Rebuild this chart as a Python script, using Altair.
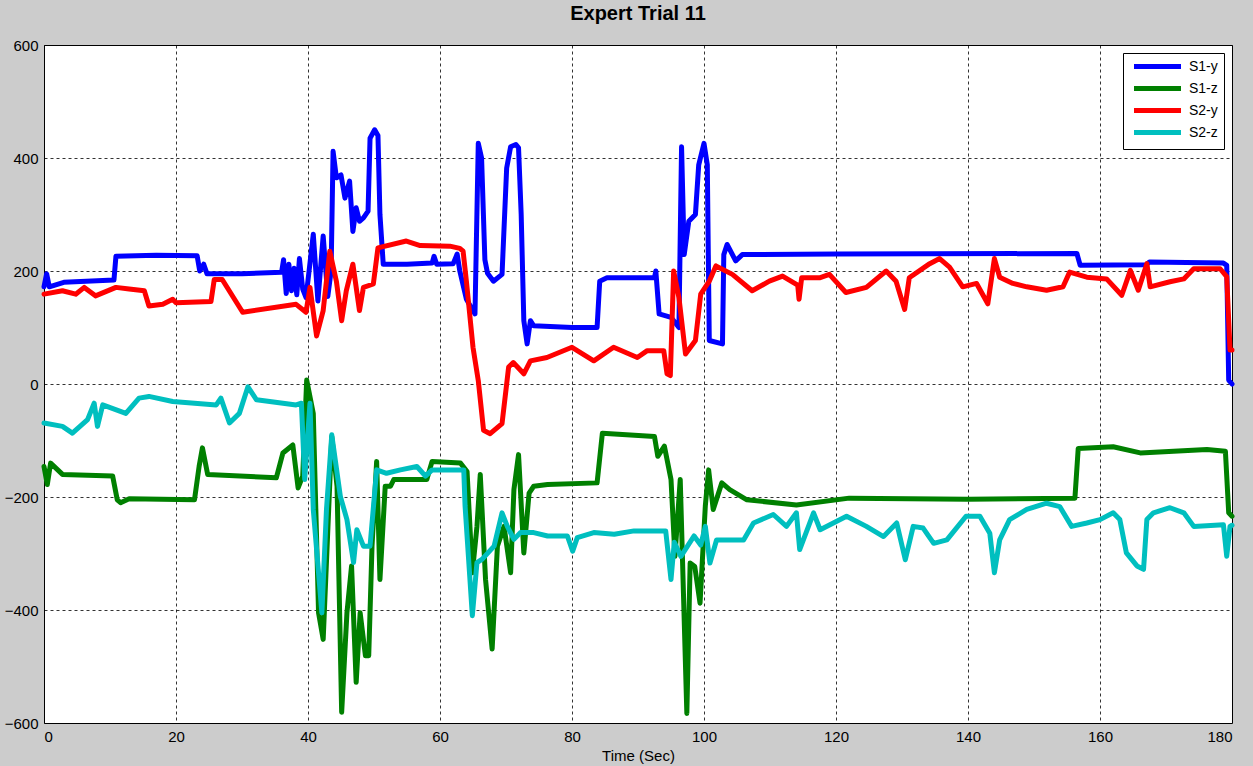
import altair as alt
import pandas as pd

series_names = ["S1-y", "S1-z", "S2-y", "S2-z"]
series_colors = ["#0000ff", "#008000", "#ff0000", "#00bfbf"]

x_ticks = [0, 20, 40, 60, 80, 100, 120, 140, 160, 180]
y_ticks = [-600, -400, -200, 0, 200, 400, 600]

s1_y = [(0,172),(0.4,195),(0.8,172),(3,180),(10.6,184),(10.9,226),(17,228),(23.2,227),(23.6,200),(24.2,212),(24.7,195),(30,195),(36,198),(36.3,220),(36.7,160),(37.1,212),(37.5,165),(37.9,205),(38.3,158),(38.7,222),(39.2,168),(39.7,153),(40.8,265),(41.5,147),(42.3,262),(43,155),(43.5,200),(43.8,412),(44.3,365),(45,370),(45.6,329),(46.3,359),(46.8,270),(47.3,312),(47.8,288),(48.4,294),(49.1,306),(49.4,435),(50.1,450),(50.6,440),(50.9,300),(51.4,212),(55,212),(58.8,214),(59.1,226),(59.5,212),(62,213),(62.6,230),(63,200),(64,150),(65.3,124),(65.8,426),(66.3,400),(66.8,220),(67.2,196),(68.1,182),(69.4,194),(70.1,382),(70.7,420),(71.5,424),(71.9,418),(72.3,300),(72.7,112),(73.2,71),(73.7,112),(74.2,103),(80,100),(83.8,100),(84.2,182),(85.3,188),(92.5,188),(92.7,200),(93.2,124),(95,118),(96.2,100),(96.6,420),(97,229),(97.7,288),(98.7,300),(99.2,388),(100,426),(100.5,388),(100.8,77),(102.8,71),(103,229),(103.5,247),(104.8,218),(105.8,229),(120,230),(156.5,231),(157,210),(167,211),(167.5,216),(178.7,214),(179.2,210),(179.5,7),(180,0)]

s1_z = [(0,-146),(0.5,-178),(1,-140),(2.8,-160),(10.4,-163),(11.1,-205),(11.6,-210),(12.9,-203),(22.8,-205),(23.5,-146),(24,-113),(24.8,-160),(35.2,-166),(36.2,-122),(37.7,-108),(38.5,-184),(39.2,-163),(39.8,7),(40.8,-52),(41.6,-405),(42.3,-452),(43.6,-93),(44.4,-181),(45.1,-581),(45.9,-405),(46.6,-322),(47.3,-528),(47.9,-405),(48.7,-481),(49.2,-481),(49.7,-287),(50.4,-137),(50.9,-346),(51.7,-181),(52.5,-181),(53,-169),(58,-169),(58.8,-137),(63.1,-140),(64.1,-155),(64.9,-334),(65.6,-252),(66.1,-160),(66.9,-346),(67.9,-469),(68.7,-287),(69.7,-252),(70.7,-334),(71.2,-187),(71.9,-125),(72.7,-299),(73.5,-193),(74.2,-181),(76.3,-178),(83.8,-175),(84.6,-87),(92.5,-93),(93,-128),(94,-110),(95,-169),(95.6,-305),(96.4,-169),(97.4,-583),(97.9,-317),(98.6,-323),(99.4,-388),(100.2,-216),(100.7,-152),(101.4,-222),(102.7,-175),(103.9,-187),(106.5,-205),(114,-214),(122,-202),(140,-204),(156.2,-202),(156.7,-114),(162,-111),(166.1,-122),(176.2,-116),(179,-119),(179.5,-228),(180,-234)]

s2_y = [(0,159),(2.8,165),(4.8,159),(6.1,171),(7.8,156),(10.9,171),(12.9,168),(15.2,165),(15.9,138),(18,141),(19.5,150),(20,144),(25.3,146),(25.8,185),(27,185),(30.1,127),(38.2,141),(39.7,127),(40.3,171),(41.3,85),(42.3,130),(43.3,235),(44.3,182),(45.1,112),(45.8,165),(46.8,212),(47.8,130),(48.4,171),(49.9,177),(50.6,241),(54.9,253),(57,245),(61.5,244),(63,240),(63.5,235),(64,182),(65,65),(65.8,6),(66.6,-82),(67.6,-88),(69.4,-70),(70.4,30),(71.1,38),(72.7,18),(73.7,41),(76.2,47),(80,65),(83.3,41),(86.3,65),(89.9,47),(91.4,59),(93.9,59),(94.4,18),(94.9,15),(95.4,200),(96.2,153),(97.2,53),(98.7,77),(99.5,159),(100.8,182),(101.8,209),(104.3,194),(107.3,165),(109.9,182),(111.9,191),(114.2,175),(114.4,150),(114.8,188),(117.5,188),(119,194),(121.5,162),(124.6,171),(127.6,200),(129.1,182),(130.4,132),(131.1,188),(134.2,213),(135.7,222),(137.2,207),(139.2,172),(141.3,178),(143,142),(144,222),(144.8,189),(146.8,178),(148.9,172),(151.9,166),(154.4,172),(155.4,198),(158,189),(161,186),(163.3,157),(164.6,201),(165.8,166),(167.1,213),(167.6,172),(170.6,181),(172.7,186),(174.2,204),(178.2,204),(179.2,190),(179.7,60),(180,60)]

s2_z = [(0,-69),(2.8,-75),(4.3,-87),(6.6,-63),(7.6,-34),(8.1,-75),(8.9,-37),(12.4,-52),(14.4,-25),(15.9,-22),(19.5,-31),(26.1,-37),(26.8,-25),(28.1,-69),(29.6,-52),(30.9,-5),(32.2,-28),(38.2,-37),(39,-34),(39.5,-169),(40.3,-34),(40.8,-222),(42.1,-405),(42.8,-222),(43.6,-90),(44.9,-199),(45.9,-240),(46.9,-316),(47.4,-258),(48.4,-287),(49.4,-287),(50.4,-152),(51.9,-158),(54,-152),(56.5,-146),(57.8,-163),(58.8,-152),(63.6,-152),(63.8,-216),(64.9,-410),(65.6,-316),(66.4,-310),(68.2,-287),(69.4,-228),(70.2,-252),(71.2,-275),(72.2,-263),(74.2,-263),(76.3,-269),(79.3,-269),(80.1,-296),(80.8,-272),(83.3,-263),(86.4,-266),(89.4,-260),(94.2,-260),(95,-346),(95.5,-280),(96.5,-305),(98.5,-269),(99.5,-285),(100.2,-252),(100.9,-317),(101.9,-276),(106,-276),(107.5,-246),(110.5,-231),(112.5,-252),(114,-228),(114.5,-293),(116.6,-228),(117.6,-258),(121.6,-234),(124.6,-252),(127.2,-270),(129.2,-246),(130.5,-311),(131.7,-252),(133.2,-255),(134.8,-282),(136.8,-276),(139.7,-234),(141.8,-234),(143.3,-264),(144,-334),(144.8,-276),(146.3,-240),(148.9,-222),(151.9,-211),(153.9,-217),(155.7,-252),(158,-246),(160,-240),(162,-228),(163,-240),(164,-299),(165.6,-322),(166.6,-328),(167.1,-240),(168.1,-228),(170.6,-219),(172.7,-228),(174.2,-252),(178.7,-249),(179.2,-305),(179.7,-252),(180,-250)]

rows = []
for name, pts in zip(series_names, [s1_y, s1_z, s2_y, s2_z]):
    for i, (t, v) in enumerate(pts):
        rows.append({"series": name, "t": t, "v": v, "i": i})
df = pd.DataFrame(rows)

FONT = "Liberation Sans"

chart = alt.Chart(df).mark_line(strokeWidth=5, strokeJoin="round", strokeCap="round").encode(
    x=alt.X("t:Q", scale=alt.Scale(domain=[0, 180], nice=False, zero=False),
            axis=alt.Axis(values=x_ticks, title="Time (Sec)", format="d")),
    y=alt.Y("v:Q", scale=alt.Scale(domain=[-600, 600], nice=False),
            axis=alt.Axis(values=y_ticks, title=None, format="d")),
    color=alt.Color("series:N", scale=alt.Scale(domain=series_names, range=series_colors),
                    legend=alt.Legend(title=None, orient="none", legendX=1079, legendY=8,
                                      symbolType="M-4.7,0H4.7", symbolSize=100, symbolStrokeWidth=5,
                                      symbolOffset=21,
                                      labelFontSize=14, labelFont=FONT, labelColor="black",
                                      padding=6, fillColor="white", strokeColor="black",
                                      rowPadding=1, labelOffset=24)),
    order="i:Q",
).properties(
    width=1188, height=678,
    title=alt.TitleParams("Expert Trial 11", fontSize=20, font=FONT, fontWeight="bold",
                          color="black", offset=14, anchor="middle"),
    autosize=alt.AutoSizeParams(type="none"),
    padding={"left": 44, "top": 45, "right": 21, "bottom": 43},
    background="#cccccc",
).configure_view(
    fill="white", stroke="black", strokeWidth=1
).configure_axis(
    domain=False, ticks=False, grid=True, gridColor="black", gridDash=[3, 3], gridOpacity=0.8,
    gridWidth=1, labelFont=FONT, labelFontSize=15, labelColor="black",
    titleFont=FONT, titleFontSize=15, titleColor="black", titleFontWeight="normal",
    labelPadding=6, titlePadding=4,
)

chart.save("out.html", embed_options={"renderer": "svg", "actions": False})
